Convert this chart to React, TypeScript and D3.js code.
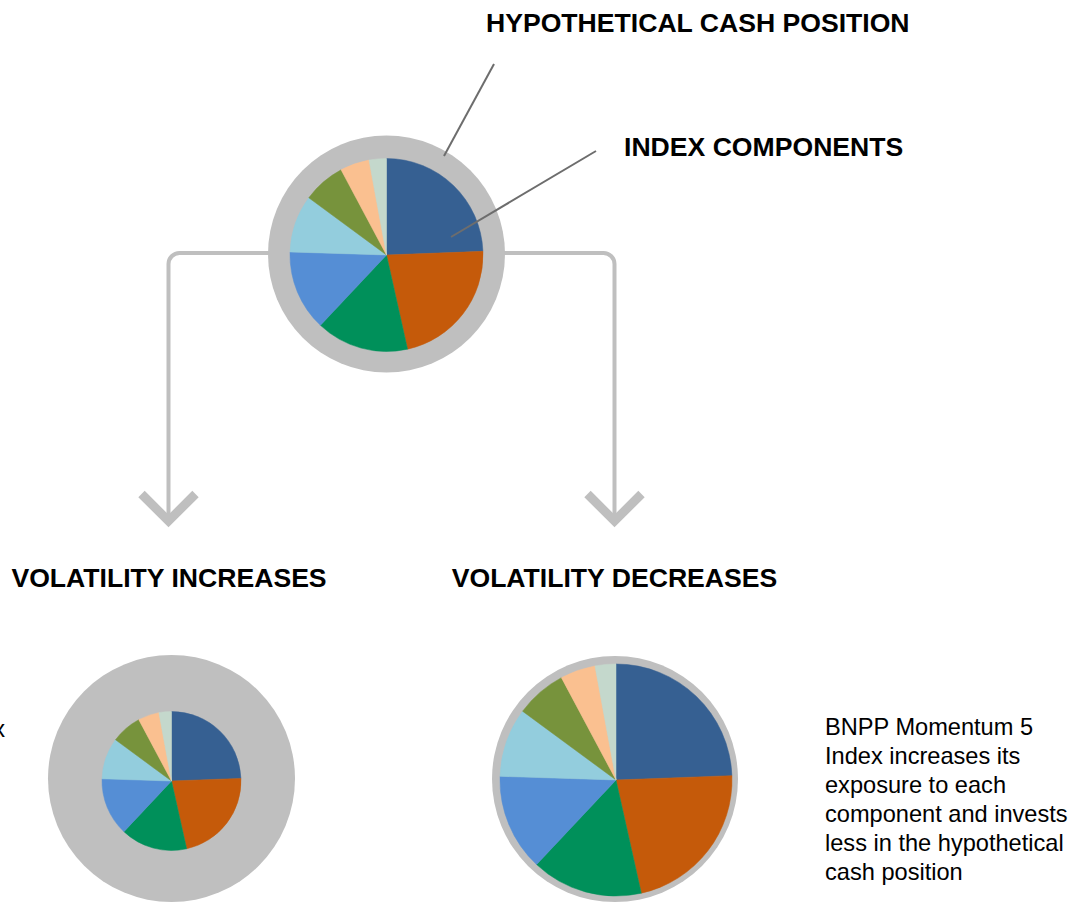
import React from "react";
import * as d3 from "d3";

// Index component weights (share of the pie, clockwise from 12 o'clock)
const components = ["Component 1", "Component 2", "Component 3", "Component 4", "Component 5", "Component 6", "Component 7", "Component 8"];
const weights = [24.4, 22.1, 15.5, 13.5, 9.6, 7.1, 4.9, 2.9];
const sliceColors = ["#366092", "#C55A0A", "#00905A", "#558ED5", "#93CDDD", "#77933C", "#FAC090", "#C4D8CC"];

const titleTop = "HYPOTHETICAL CASH POSITION";
const titleIndex = "INDEX COMPONENTS";
const labelUp = "VOLATILITY INCREASES";
const labelDown = "VOLATILITY DECREASES";
const rightText = [
  "BNPP Momentum 5",
  "Index increases its",
  "exposure to each",
  "component and invests",
  "less in the hypothetical",
  "cash position",
];
const leftText = ["BNPP Momentum 5 Index"];

const GRAY = "#BFBFBF";
const FONT = "'Liberation Sans', Arial, Helvetica, sans-serif";

type PieSpec = { gx: number; gy: number; gr: number; px: number; py: number; pr: number };

const pies: PieSpec[] = [
  { gx: 386.5, gy: 254, gr: 118.5, px: 386.5, py: 255, pr: 96.5 },
  { gx: 171.5, gy: 778.5, gr: 123.5, px: 171.5, py: 781, pr: 69.5 },
  { gx: 615, gy: 779, gr: 123, px: 616, py: 780, pr: 116 },
];

function Pie({ spec }: { spec: PieSpec }) {
  const pieGen = d3.pie<number>().sort(null).value((d) => d);
  const arcs = pieGen(weights);
  const arcGen = d3.arc<d3.PieArcDatum<number>>().innerRadius(0).outerRadius(spec.pr);
  return (
    <g>
      <circle cx={spec.gx} cy={spec.gy} r={spec.gr} fill={GRAY} />
      <g transform={`translate(${spec.px},${spec.py})`}>
        {arcs.map((a, i) => (
          <path key={components[i]} d={arcGen(a) || ""} fill={sliceColors[i]} stroke={sliceColors[i]} strokeWidth={0.5} />
        ))}
      </g>
    </g>
  );
}

function branch(x0: number, y: number, xv: number, yEnd: number) {
  const p = d3.path();
  const dir = xv < x0 ? -1 : 1;
  const rad = 11;
  p.moveTo(x0, y);
  p.lineTo(xv - dir * rad, y);
  p.arcTo(xv, y, xv, y + rad, rad);
  p.lineTo(xv, yEnd);
  return p.toString();
}

function chevron(x: number, tipY: number) {
  const a = 27;
  const p = d3.path();
  p.moveTo(x - a, tipY - a);
  p.lineTo(x, tipY);
  p.lineTo(x + a, tipY - a);
  return p.toString();
}

export default function App() {
  return (
    <svg
      width={1087}
      height={903}
      viewBox="0 0 1087 903"
      style={{ position: "absolute", left: 0, top: 0, background: "#fff" }}
    >
      <rect x={0} y={0} width={1087} height={903} fill="#fff" />

      {/* branches */}
      <path d={branch(280, 253, 168.5, 518)} fill="none" stroke={GRAY} strokeWidth={4} />
      <path d={branch(495, 253, 614.5, 518)} fill="none" stroke={GRAY} strokeWidth={4} />
      <path d={chevron(168.5, 521)} fill="none" stroke={GRAY} strokeWidth={9} strokeLinejoin="miter" />
      <path d={chevron(614.5, 521)} fill="none" stroke={GRAY} strokeWidth={9} strokeLinejoin="miter" />

      {pies.map((s, i) => (
        <Pie key={i} spec={s} />
      ))}

      {/* leader lines */}
      <line x1={494} y1={64} x2={444} y2={156} stroke="#6D6D6D" strokeWidth={2} />
      <line x1={596} y1={151} x2={451} y2={237} stroke="#6D6D6D" strokeWidth={2} />

      <g fontFamily={FONT} fontWeight="bold" fontSize={26.6} fill="#000">
        <text x={486} y={32}>{titleTop}</text>
        <text x={624} y={156}>{titleIndex}</text>
        <text x={169} y={587} textAnchor="middle">{labelUp}</text>
        <text x={614.5} y={587} textAnchor="middle">{labelDown}</text>
      </g>

      <g fontFamily={FONT} fontSize={23.6} fill="#000">
        {rightText.map((t, i) => (
          <text key={i} x={825} y={735 + i * 29}>{t}</text>
        ))}
        {leftText.map((t, i) => (
          <text key={i} x={5} y={737 + i * 29} textAnchor="end">{t}</text>
        ))}
      </g>
    </svg>
  );
}
